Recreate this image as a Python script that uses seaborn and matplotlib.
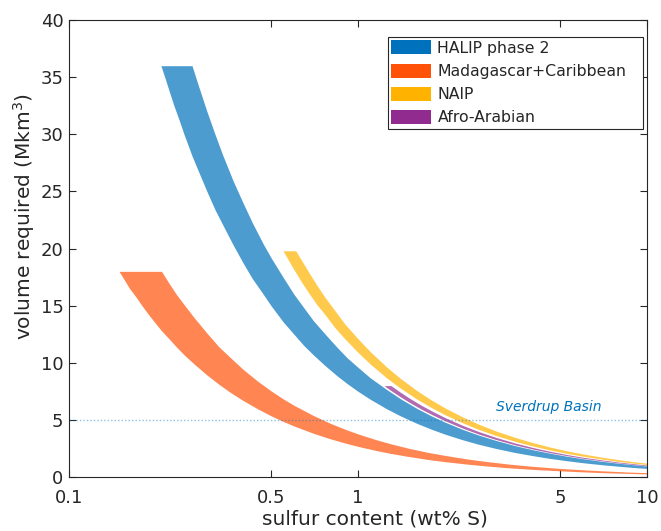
import matplotlib
matplotlib.use("Agg")
import matplotlib.pyplot as plt
from matplotlib.patches import Patch
import seaborn as sns
import pandas as pd

# ---- data (sulfur content wt% S -> volume Mkm^3) ----
halip_s = [0.208, 0.215, 0.222, 0.23, 0.24, 0.25, 0.2665, 0.28, 0.3, 0.32, 0.34, 0.37, 0.4, 0.43, 0.47,
           0.5, 0.55, 0.6, 0.65, 0.7, 0.77, 0.85, 0.92, 1.0, 1.1, 1.25, 1.4, 1.6, 1.8, 2.0, 2.3, 2.6,
           3.0, 3.5, 4.0, 4.6, 5.3, 6.0, 7.0, 8.0, 9.0, 10.0]
halip_upper = [36, 36, 36, 36, 36, 36, 36, 34.3, 32.0, 30.0, 28.2, 25.9, 24.0, 22.3, 20.4,
               19.2, 17.5, 16.0, 14.8, 13.7, 12.5, 11.3, 10.4, 9.6, 8.7, 7.7, 6.86, 6.0, 5.33, 4.8, 4.17, 3.69,
               3.2, 2.74, 2.4, 2.09, 1.81, 1.6, 1.37, 1.2, 1.07, 0.96]
halip_lower = [36.0, 34.9, 33.8, 32.6, 31.3, 30.0, 28.1, 26.8, 25.0, 23.4, 22.1, 20.3, 18.75, 17.4, 16.0,
               15.0, 13.6, 12.5, 11.5, 10.7, 9.74, 8.82, 8.15, 7.5, 6.82, 6.0, 5.36, 4.69, 4.17, 3.75, 3.26, 2.88,
               2.5, 2.14, 1.88, 1.63, 1.42, 1.25, 1.07, 0.94, 0.83, 0.75]

mad_s = [0.149, 0.155, 0.162, 0.17, 0.18, 0.19, 0.2, 0.209, 0.22, 0.235, 0.25, 0.27, 0.3, 0.33, 0.36,
         0.4, 0.45, 0.5, 0.55, 0.6, 0.7, 0.8, 0.9, 1.0, 1.15, 1.3, 1.5, 1.75, 2.0, 2.4, 2.8, 3.3,
         4.0, 5.0, 6.0, 7.0, 8.5, 10.0]
mad_upper = [18, 18, 18, 18, 18, 18, 18, 18, 17.1, 16.0, 15.1, 14.0, 12.6, 11.4, 10.5,
             9.43, 8.38, 7.54, 6.85, 6.28, 5.39, 4.71, 4.19, 3.77, 3.28, 2.9, 2.51, 2.15, 1.89, 1.57, 1.35, 1.14,
             0.94, 0.75, 0.63, 0.54, 0.44, 0.38]
mad_lower = [18.0, 17.3, 16.5, 15.8, 14.9, 14.1, 13.4, 12.8, 12.2, 11.4, 10.7, 9.93, 8.93, 8.12, 7.44,
             6.7, 5.96, 5.36, 4.87, 4.47, 3.83, 3.35, 2.98, 2.68, 2.33, 2.06, 1.79, 1.53, 1.34, 1.12, 0.96, 0.81,
             0.67, 0.54, 0.45, 0.38, 0.32, 0.27]

naip_s = [0.55, 0.565, 0.58, 0.595, 0.609, 0.64, 0.68, 0.72, 0.77, 0.83, 0.9, 1.0, 1.1, 1.25, 1.4,
          1.6, 1.8, 2.0, 2.3, 2.6, 3.0, 3.5, 4.0, 4.6, 5.3, 6.0, 7.0, 8.0, 9.0, 10.0]
naip_upper = [19.8, 19.8, 19.8, 19.8, 19.8, 18.9, 17.8, 16.8, 15.7, 14.6, 13.4, 12.1, 11.0, 9.68, 8.64,
              7.56, 6.72, 6.05, 5.26, 4.65, 4.03, 3.46, 3.03, 2.63, 2.28, 2.02, 1.73, 1.51, 1.34, 1.21]
naip_lower = [19.8, 19.3, 18.8, 18.3, 17.9, 17.0, 16.0, 15.1, 14.2, 13.1, 12.1, 10.9, 9.91, 8.72, 7.79,
              6.81, 6.06, 5.45, 4.74, 4.19, 3.63, 3.11, 2.73, 2.37, 2.06, 1.82, 1.56, 1.36, 1.21, 1.09]

afro_s = [1.23, 1.26, 1.30, 1.4, 1.5, 1.65, 1.8, 2.0, 2.3, 2.6, 3.0, 3.5, 4.0, 4.6, 5.3, 6.0, 7.0, 8.0, 9.0, 10.0]
afro_upper = [8.0, 8.0, 8.0, 7.43, 6.93, 6.3, 5.78, 5.2, 4.52, 4.0, 3.47, 2.97, 2.6, 2.26, 1.96, 1.73, 1.49, 1.3, 1.16, 1.04]
afro_lower = [8.0, 7.81, 7.57, 7.03, 6.56, 5.96, 5.47, 4.92, 4.28, 3.78, 3.28, 2.81, 2.46, 2.14, 1.86, 1.64, 1.41, 1.23, 1.09, 0.98]

labels = ["HALIP phase 2", "Madagascar+Caribbean", "NAIP", "Afro-Arabian"]
colors = ["#0072BD", "#FF5208", "#FFB300", "#922B8F"]

sverdrup_s = [0.1, 10.0]
sverdrup_v = [5.0, 5.0]
sverdrup_label = "Sverdrup Basin"

x_ticks = [0.1, 0.5, 1, 5, 10]
x_ticklabels = ["0.1", "0.5", "1", "5", "10"]
y_ticks = [0, 5, 10, 15, 20, 25, 30, 35, 40]

# ---- figure ----
sns.set_theme(style="white")
plt.rcParams["font.family"] = ["DejaVu Sans"]
plt.rcParams["axes.unicode_minus"] = False

fig = plt.figure(figsize=(6.61, 5.31), dpi=100)
ax = fig.add_axes([69 / 661, 1 - 477 / 531, 578 / 661, 457 / 531])
ax.set_xscale("log")

bands = [(halip_s, halip_lower, halip_upper),
         (mad_s, mad_lower, mad_upper),
         (naip_s, naip_lower, naip_upper),
         (afro_s, afro_lower, afro_upper)]
for (s, lo, hi), c in zip(bands, colors):
    ax.fill_between(s, lo, hi, color=c, alpha=0.7, linewidth=0)

df_sv = pd.DataFrame({"s": sverdrup_s, "v": sverdrup_v})
sns.lineplot(data=df_sv, x="s", y="v", ax=ax, color="#0072BD", alpha=0.45,
             linestyle=(0, (1, 1.5)), linewidth=1.0)
ax.text(3.0, 5.5, sverdrup_label, color="#0072BD", fontsize=10,
        fontstyle="italic", ha="left", va="bottom")

ax.set_xlim(0.1, 10)
ax.set_ylim(0, 40)
ax.set_xticks(x_ticks)
ax.set_xticklabels(x_ticklabels)
ax.minorticks_off()
ax.set_yticks(y_ticks)
ax.tick_params(axis="both", which="both", direction="in", length=5, width=0.8,
               color="#262626", labelcolor="#262626", labelsize=13,
               top=True, right=True, bottom=True, left=True)
ax.tick_params(axis="x", pad=8.5)
ax.tick_params(axis="y", pad=4)
for sp in ax.spines.values():
    sp.set_visible(True)
    sp.set_color("#262626")
    sp.set_linewidth(0.8)

ax.set_xlabel("sulfur content (wt% S)", fontsize=14.5, color="#262626")
ax.set_ylabel("volume required (Mkm$^3$)", fontsize=14.5, color="#262626")
ax.xaxis.set_label_coords(0.53, -0.072)
ax.yaxis.set_label_coords(-0.056, 0.57)

handles = [Patch(facecolor=c, edgecolor="none") for c in colors]
leg = ax.legend(handles, labels, loc="upper left", mode="expand",
                bbox_to_anchor=((388 - 69) / 578, 0.963, (643 - 388) / 578, 0.0),
                borderaxespad=0,
                fontsize=11.3, handlelength=2.55, handleheight=1.0,
                handletextpad=0.38, labelspacing=0.5, borderpad=0.22,
                frameon=True, fancybox=False, framealpha=1)
leg.get_frame().set_edgecolor("#262626")
leg.get_frame().set_linewidth(0.8)
for t in leg.get_texts():
    t.set_color("#262626")

fig.savefig("out.png", dpi=100)
